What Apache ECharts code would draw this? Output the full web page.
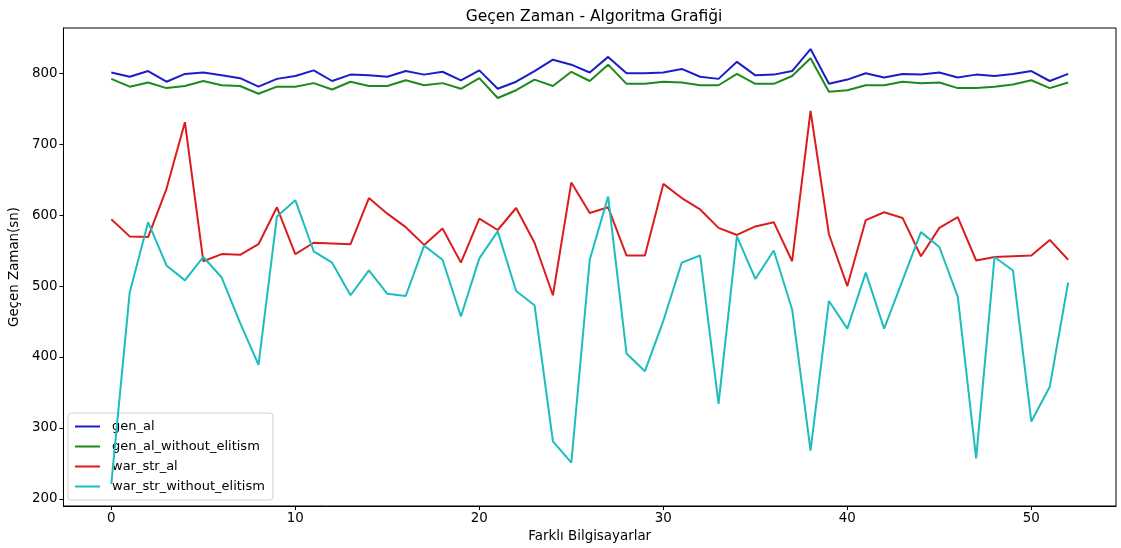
<!DOCTYPE html>
<html>
<head>
<meta charset="utf-8">
<script src="https://cdn.jsdelivr.net/npm/echarts@6/dist/echarts.min.js"></script>
<style>
html,body{margin:0;padding:0;background:#fff;}
#chart{width:1121px;height:548px;}
</style>
</head>
<body>
<div id="chart"></div>
<script>
const seriesNames = ['gen_al', 'gen_al_without_elitism', 'war_str_al', 'war_str_without_elitism'];
const genAl = [801,795,803,788,799,801,797,793,781,792,796,804,789,798,797,795,803,
  798,802,790,804,778,788,803,819,812,801,823,800,800,801,806,795,792,816,797,
  798,803,834,785,791,800,794,799,798,801,794,798,796,799,803,789,799];
const genAlWithoutElitism = [792,781,787,779,782,789,783,782,771,781,781,786,777,788,782,782,790,
  783,786,778,793,765,776,791,782,802,789,812,785,785,788,787,783,783,799,785,
  785,796,821,774,776,783,783,788,786,787,779,779,781,784,790,779,787];
const warStrAl = [594,570,569,637,731,535,545,544,559,611,545,561,560,559,624,602,583,
  558,581,533,595,579,610,561,487,646,603,611,543,543,644,624,608,582,572,584,
  590,535,747,573,500,593,604,596,542,582,597,536,541,542,543,565,537];
const warStrWithoutElitism = [221,491,590,529,508,541,512,448,389,598,621,549,533,487,522,489,486,
  557,537,457,539,577,493,473,281,251,537,626,405,380,451,533,543,334,570,510,
  550,467,268,479,440,519,440,508,576,555,485,257,541,522,309,358,505];
const xTicks = [0, 10, 20, 30, 40, 50];
const yTicks = [200, 300, 400, 500, 600, 700, 800];
const colors = ['#1c1cc8', '#1c8a1c', '#dc1c1c', '#1cbdbd'];

const allData = [genAl, genAlWithoutElitism, warStrAl, warStrWithoutElitism];
const toPairs = arr => arr.map((v, i) => [i, v]);

const chart = echarts.init(document.getElementById('chart'), null, {renderer: 'canvas'});
const font = 'DejaVu Sans';
chart.setOption({
  animation: false,
  backgroundColor: '#fff',
  title: {
    text: 'Geçen Zaman - Algoritma Grafiği',
    left: 589, top: 4, textAlign: 'center',
    textStyle: {fontFamily: font, fontSize: 15.5, fontWeight: 'normal', color: '#000'}
  },
  grid: {left: 62, right: 5, top: 28, bottom: 41, show: true, borderColor: '#000', borderWidth: 1, containLabel: false},
  legend: {
    orient: 'vertical', left: 68, top: 413,
    data: seriesNames,
    icon: 'rect', itemWidth: 25, itemHeight: 2, itemGap: 5,
    padding: [6, 8, 6, 7],
    backgroundColor: 'rgba(255,255,255,0.8)',
    borderColor: '#d0d0d0', borderWidth: 1, borderRadius: 3,
    textStyle: {fontFamily: font, fontSize: 13, color: '#000', lineHeight: 15, padding: [0, 0, 0, 7]}
  },
  xAxis: {
    type: 'value', min: -2.6, max: 54.6,
    name: 'Farklı Bilgisayarlar', nameLocation: 'middle', nameGap: 24,
    nameTextStyle: {fontFamily: font, fontSize: 13.4, color: '#000'},
    axisLine: {show: true, onZero: false, lineStyle: {color: '#000', width: 1}},
    axisTick: {show: true, length: 4, customValues: xTicks, lineStyle: {color: '#000'}},
    axisLabel: {customValues: xTicks, fontFamily: font, fontSize: 13.4, color: '#000', margin: 6},
    splitLine: {show: false}
  },
  yAxis: {
    type: 'value', min: 190, max: 863.7,
    name: 'Geçen Zaman(sn)', nameLocation: 'middle', nameGap: 40, nameRotate: 90,
    nameTextStyle: {fontFamily: font, fontSize: 13.4, color: '#000'},
    axisLine: {show: true, onZero: false, lineStyle: {color: '#000', width: 1}},
    axisTick: {show: true, length: 4, customValues: yTicks, lineStyle: {color: '#000'}},
    axisLabel: {customValues: yTicks, fontFamily: font, fontSize: 13.4, color: '#000', margin: 6},
    splitLine: {show: false}
  },
  series: seriesNames.map((name, k) => ({
    name: name, type: 'line', data: toPairs(allData[k]),
    showSymbol: false, symbol: 'none',
    lineStyle: {color: colors[k], width: 2},
    itemStyle: {color: colors[k]},
    z: 2 + k
  }))
});
</script>
</body>
</html>
